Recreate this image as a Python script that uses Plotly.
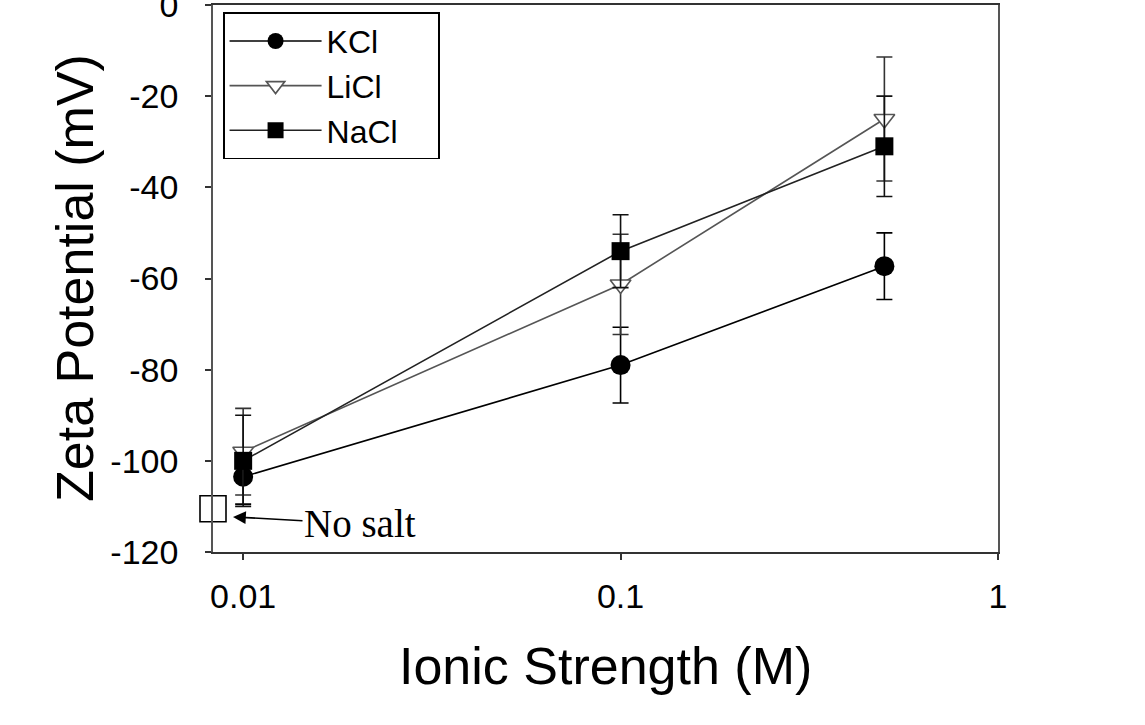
import numpy as np
import plotly.graph_objects as go

# ---- data ----
ionic_strength = [0.01, 0.1, 0.5]
kcl = [-103.5, -79.0, -57.3]
kcl_err = [6.0, 8.3, 7.3]
licl = [-98.0, -61.3, -25.0]
licl_err = [9.5, 11.0, 13.6]
nacl = [-100.0, -54.0, -31.0]
nacl_err = [10.0, 8.0, 11.0]
no_salt_x = [0.00832]
no_salt_y = [-110.5]

series_names = ["KCl", "LiCl", "NaCl"]
x_ticks = [0.01, 0.1, 1]
x_tick_labels = ["0.01", "0.1", "1"]
y_ticks = [0, -20, -40, -60, -80, -100, -120]
y_tick_labels = ["0", "-20", "-40", "-60", "-80", "-100", "-120"]

fig = go.Figure()

def err(vals, color):
    return dict(type="data", array=vals, visible=True, color=color,
                thickness=1.6, width=8)

pad = "\u00a0\u00a0\u00a0\u00a0"
fig.add_trace(go.Scatter(
    x=ionic_strength, y=kcl, name=series_names[0] + pad, mode="lines+markers",
    line=dict(color="#000000", width=1.6),
    marker=dict(symbol="circle", size=20, color="#000000"),
    error_y=err(kcl_err, "#000000")))
fig.add_trace(go.Scatter(
    x=ionic_strength, y=licl, name=series_names[1] + pad, mode="lines+markers",
    line=dict(color="#555555", width=1.6),
    marker=dict(symbol="triangle-down", size=18, color="#ffffff",
                line=dict(color="#555555", width=1.6)),
    error_y=err(licl_err, "#333333")))
fig.add_trace(go.Scatter(
    x=ionic_strength, y=nacl, name=series_names[2] + pad, mode="lines+markers",
    line=dict(color="#222222", width=1.6),
    marker=dict(symbol="square", size=18, color="#000000"),
    error_y=err(nacl_err, "#111111")))
fig.add_trace(go.Scatter(
    x=no_salt_x, y=no_salt_y, mode="markers", showlegend=False,
    marker=dict(symbol="square", size=26, color="#ffffff",
                line=dict(color="#000000", width=1.6)),
    cliponaxis=False))

fig.add_annotation(
    x=np.log10(0.0094), y=-112.3, xref="x", yref="y",
    text="No salt", showarrow=True, arrowhead=2, arrowsize=1.6,
    arrowwidth=1.6, arrowcolor="#000000",
    ax=127, ay=7, font=dict(family="Liberation Serif", size=39, color="#000000"))

# axis titles as annotations for precise placement
fig.add_annotation(
    x=(75 - 213) / 785, y=1 - (278 - 5) / 547, xref="paper", yref="paper",
    text="Zeta Potential (mV)", textangle=-90, showarrow=False,
    xanchor="center", yanchor="middle",
    font=dict(family="Liberation Sans", size=52, color="#000000"))
fig.add_annotation(
    x=(605 - 213) / 785, y=1 - (666 - 5) / 547, xref="paper", yref="paper",
    text="Ionic Strength (M)", showarrow=False,
    xanchor="center", yanchor="middle",
    font=dict(family="Liberation Sans", size=52, color="#000000"))

axis_font = dict(family="Liberation Sans", size=34, color="#000000")
fig.update_xaxes(
    type="log", range=[np.log10(0.00832), 0],
    tickvals=x_ticks, ticktext=x_tick_labels,
    ticks="outside", ticklen=6, tickwidth=1.5, tickcolor="#333333",
    showline=True, linecolor="#333333", linewidth=1.6, mirror=True,
    showgrid=False, zeroline=False, tickfont=axis_font,
    ticklabelstandoff=7, automargin=False, ticklabeloverflow="allow")
fig.update_yaxes(
    range=[-120, 0], tickvals=y_ticks, ticktext=y_tick_labels,
    ticks="outside", ticklen=6, tickwidth=1.5, tickcolor="#333333",
    showline=True, linecolor="#555555", linewidth=1.6, mirror=True,
    showgrid=False, zeroline=False, tickfont=axis_font,
    ticklabelstandoff=20, automargin=False, ticklabeloverflow="allow")

fig.update_layout(
    width=1145, height=725,
    margin=dict(l=213, r=147, t=5, b=173, autoexpand=False),
    plot_bgcolor="#ffffff", paper_bgcolor="#ffffff",
    showlegend=True,
    legend=dict(x=0.0127, y=0.987, xanchor="left", yanchor="top",
                bordercolor="#000000", borderwidth=1.6, bgcolor="#ffffff",
                font=dict(family="Liberation Sans", size=32, color="#000000"),
                itemwidth=92, tracegroupgap=0),
)

fig.write_html("out.html", config={"displayModeBar": False},
               post_script="document.body.style.margin='0px';document.body.style.padding='0px';")
